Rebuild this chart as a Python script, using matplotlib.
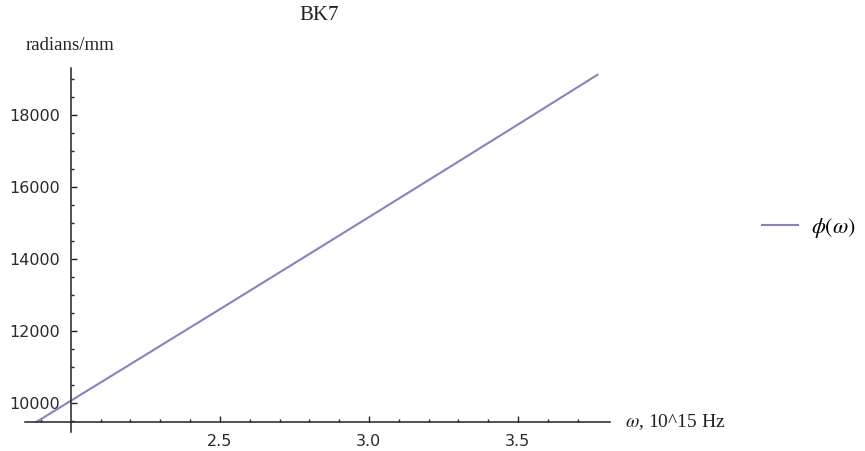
import matplotlib
matplotlib.use('Agg')
import matplotlib.pyplot as plt
from matplotlib.ticker import MultipleLocator, FixedLocator

# phase per mm for BK7
omega = [1.884, 2.0, 2.25, 2.5, 2.75, 3.0, 3.25, 3.5, 3.767]   # 10^15 Hz
phi = [9472, 10063, 11333, 12606, 13883, 15163, 16447, 17735, 19119]  # radians/mm

x_major = [2.5, 3.0, 3.5]
y_major = [10000, 12000, 14000, 16000, 18000]

plt.rcParams['mathtext.fontset'] = 'stix'

W, H = 865, 451
fig = plt.figure(figsize=(W / 100, H / 100), dpi=100)
ax = fig.add_axes([25 / W, 1 - 432 / H, (610 - 25) / W, (432 - 68) / H])

line_col = '#8484c4'
ax.plot(omega, phi, color=line_col, lw=1.5, label=r'$\phi(\omega)$')

ax.set_xlim(1.846, 3.809)
ax.set_ylim(9194, 19306)

# Mathematica style axes crossing inside the plot
for s in ['top', 'right']:
    ax.spines[s].set_visible(False)
ax.spines['left'].set_position(('data', 2.0))
ax.spines['bottom'].set_position(('data', 9472))
for s in ['left', 'bottom']:
    ax.spines[s].set_linewidth(1.1)
    ax.spines[s].set_color('#222222')

ax.xaxis.set_major_locator(FixedLocator(x_major))
ax.xaxis.set_minor_locator(FixedLocator([1.9] + [2.0 + 0.1 * i for i in range(1, 18) if i % 5]))
ax.yaxis.set_major_locator(FixedLocator(y_major))
ax.yaxis.set_minor_locator(MultipleLocator(500))

ax.tick_params(which='both', direction='in', color='#222222', width=1.0,
               labelsize=11.5, labelcolor='#2a2a2a')
ax.tick_params(which='major', length=4.5)
ax.tick_params(which='minor', length=2.5)
ax.tick_params(axis='y', pad=8)
ax.tick_params(axis='x', pad=9)
ax.xaxis.set_major_formatter(plt.FuncFormatter(lambda v, p: f'{v:.1f}'))
ax.yaxis.set_major_formatter(plt.FuncFormatter(lambda v, p: f'{int(v)}'))

serif = 'Liberation Serif'
fig.text(319 / W, 1 - 15 / H, 'BK7', family=serif, fontsize=15,
         ha='center', va='center', color='#222222')
fig.text(70 / W, 1 - 46 / H, 'radians/mm', family=serif, fontsize=13.5,
         ha='center', va='center', color='#222222')
fig.text(625 / W, 1 - 422 / H, r'$\omega$, 10^15 Hz', family=serif, fontsize=14,
         ha='left', va='center', color='#222222')

fig.legend(loc='center left', bbox_to_anchor=(762 / W, 1 - 228 / H),
           frameon=False, fontsize=16, handlelength=1.62, handletextpad=0.6,
           borderpad=0, borderaxespad=0)

fig.savefig('out.png', dpi=100)
